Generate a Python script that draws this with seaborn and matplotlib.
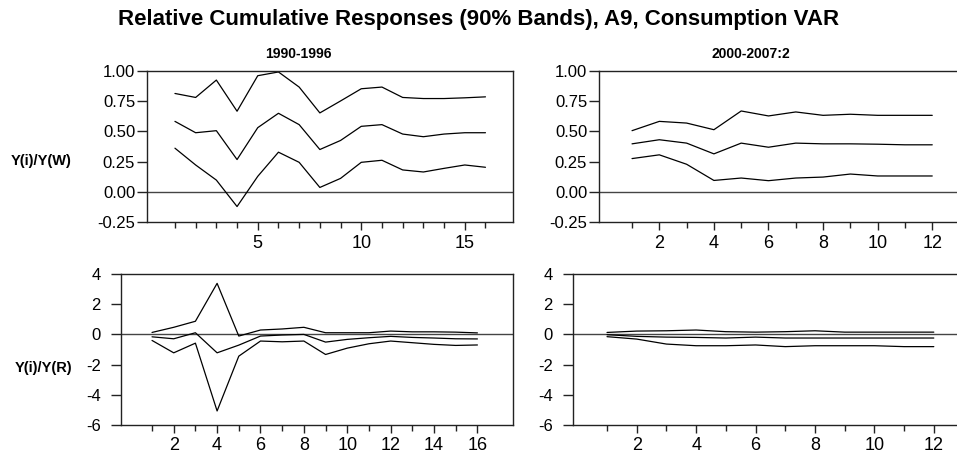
import matplotlib
matplotlib.use("Agg")
import matplotlib.pyplot as plt
from matplotlib.ticker import MultipleLocator
import seaborn as sns
import pandas as pd

# horizons
steps_a = list(range(1, 17))   # 1990-1996
steps_b = list(range(1, 13))   # 2000-2007:2

# Y(i)/Y(W), 1990-1996
w_a_upper = [0.814, 0.781, 0.925, 0.667, 0.961, 0.992, 0.867, 0.653,
             0.752, 0.853, 0.867, 0.781, 0.772, 0.772, 0.778, 0.786]
w_a_mid = [0.583, 0.489, 0.506, 0.267, 0.531, 0.650, 0.556, 0.350,
           0.425, 0.542, 0.556, 0.478, 0.456, 0.478, 0.489, 0.489]
w_a_lower = [0.361, 0.222, 0.097, -0.122, 0.128, 0.328, 0.244, 0.036,
             0.111, 0.244, 0.261, 0.181, 0.164, 0.194, 0.222, 0.203]

# Y(i)/Y(W), 2000-2007:2
w_b_upper = [0.506, 0.583, 0.569, 0.514, 0.669, 0.628, 0.661, 0.633,
             0.642, 0.633, 0.633, 0.633]
w_b_mid = [0.397, 0.431, 0.403, 0.314, 0.403, 0.369, 0.403, 0.397,
           0.397, 0.394, 0.389, 0.389]
w_b_lower = [0.275, 0.306, 0.228, 0.094, 0.114, 0.092, 0.114, 0.122,
             0.147, 0.131, 0.131, 0.131]

# Y(i)/Y(R), 1990-1996
r_a_upper = [0.13, 0.47, 0.87, 3.38, -0.11, 0.29, 0.36, 0.47,
             0.11, 0.11, 0.11, 0.22, 0.17, 0.17, 0.15, 0.10]
r_a_mid = [-0.16, -0.29, 0.11, -1.22, -0.71, -0.11, -0.04, 0.0,
           -0.51, -0.33, -0.22, -0.13, -0.20, -0.24, -0.29, -0.30]
r_a_lower = [-0.40, -1.22, -0.58, -5.07, -1.44, -0.44, -0.49, -0.44,
             -1.33, -0.91, -0.62, -0.44, -0.55, -0.66, -0.73, -0.70]

# Y(i)/Y(R), 2000-2007:2
r_b_upper = [0.13, 0.22, 0.24, 0.29, 0.18, 0.15, 0.18, 0.24,
             0.15, 0.15, 0.15, 0.15]
r_b_mid = [-0.02, -0.13, -0.18, -0.20, -0.24, -0.18, -0.24, -0.24,
           -0.24, -0.24, -0.24, -0.24]
r_b_lower = [-0.15, -0.31, -0.64, -0.75, -0.75, -0.70, -0.81, -0.75,
             -0.75, -0.75, -0.81, -0.81]

title = "Relative Cumulative Responses (90% Bands), A9, Consumption VAR"
period_labels = ["1990-1996", "2000-2007:2"]
row_labels = ["Y(i)/Y(W)", "Y(i)/Y(R)"]

sns.set_style("ticks")
plt.rcParams['font.family'] = ['Liberation Sans', 'DejaVu Sans']
plt.rcParams['text.color'] = 'black'
plt.rcParams['xtick.color'] = 'black'
plt.rcParams['ytick.color'] = 'black'

AX_COLOR = "#222222"


def bands_frame(steps, upper, mid, lower):
    parts = []
    for name, vals in (("upper", upper), ("mid", mid), ("lower", lower)):
        parts.append(pd.DataFrame({"step": steps, "value": vals, "band": name}))
    return pd.concat(parts, ignore_index=True)


def draw_panel(fig, rect, steps, upper, mid, lower, xlim, ylim, yticks,
               ylabels, xmajor, ysize, ypad):
    ax = fig.add_axes(rect)
    df = bands_frame(steps, upper, mid, lower)
    sns.lineplot(data=df, x="step", y="value", hue="band",
                 palette={"upper": "black", "mid": "black", "lower": "black"},
                 legend=False, lw=0.9, ax=ax)
    ax.axhline(0, color="#444444", lw=1.0, zorder=1)
    ax.set_xlim(*xlim)
    ax.set_ylim(*ylim)
    ax.set_yticks(yticks)
    ax.set_yticklabels(ylabels)
    # ticks only over the horizons that are plotted
    ax.set_xticks([t for t in range(xmajor, steps[-1] + 1, xmajor)])
    ax.set_xticks(steps, minor=True)
    ax.set_xlabel("")
    ax.set_ylabel("")
    ax.tick_params(axis="x", which="major", direction="out", length=6,
                   width=1, labelsize=13, pad=3, color=AX_COLOR)
    ax.tick_params(axis="x", which="minor", direction="out", length=4.5,
                   width=1, color=AX_COLOR)
    ax.tick_params(axis="y", direction="out", length=7.5, width=1,
                   labelsize=ysize, pad=ypad, color=AX_COLOR)
    for sp in ax.spines.values():
        sp.set_visible(True)
        sp.set_color(AX_COLOR)
        sp.set_linewidth(1.0)
    return ax


fig = plt.figure(figsize=(9.57, 4.58), dpi=100)
W, H = 957.0, 458.0

w_ticks = [-0.25, 0.0, 0.25, 0.5, 0.75, 1.0]
w_labels = ["-0.25", "0.00", "0.25", "0.50", "0.75", "1.00"]
r_ticks = [-6, -4, -2, 0, 2, 4]
r_labels = ["-6", "-4", "-2", "0", "2", "4"]

draw_panel(fig, [147 / W, 1 - 222 / H, 366 / W, 151 / H], steps_a,
           w_a_upper, w_a_mid, w_a_lower, (-0.35, 17.33), (-0.25, 1.0),
           w_ticks, w_labels, 5, 12, 1)
draw_panel(fig, [599 / W, 1 - 222 / H, 366 / W, 151 / H], steps_b,
           w_b_upper, w_b_mid, w_b_lower, (-0.21, 13.2), (-0.25, 1.0),
           w_ticks, w_labels, 2, 12, 1)
draw_panel(fig, [121 / W, 1 - 425 / H, 392 / W, 151 / H], steps_a,
           r_a_upper, r_a_mid, r_a_lower, (-0.43, 17.64), (-6, 4),
           r_ticks, r_labels, 2, 12, 7)
draw_panel(fig, [573 / W, 1 - 425 / H, 392 / W, 151 / H], steps_b,
           r_b_upper, r_b_mid, r_b_lower, (-0.145, 13.05), (-6, 4),
           r_ticks, r_labels, 2, 12, 7)

fig.text(479 / W, 1 - 20 / H, title, ha="center", va="center",
         fontsize=16, fontweight="bold")
fig.text(298 / W, 1 - 54 / H, period_labels[0], ha="center", va="center",
         fontsize=10, fontweight="bold")
fig.text(751 / W, 1 - 54 / H, period_labels[1], ha="center", va="center",
         fontsize=10, fontweight="bold")
fig.text(72 / W, 1 - 161 / H, row_labels[0], ha="right", va="center",
         fontsize=10.5, fontweight="bold")
fig.text(72 / W, 1 - 368 / H, row_labels[1], ha="right", va="center",
         fontsize=10.5, fontweight="bold")

fig.savefig("out.png", dpi=100)
